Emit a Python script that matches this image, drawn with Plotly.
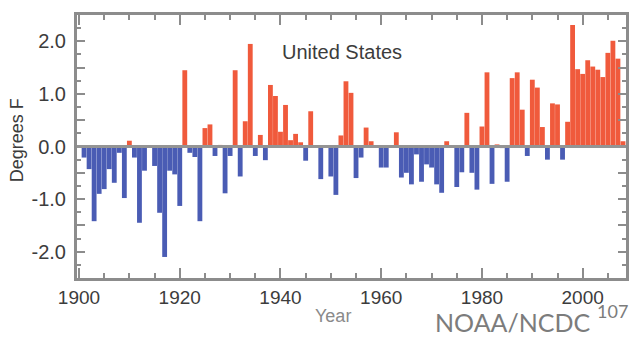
import plotly.graph_objects as go

years = list(range(1901, 2009))
anomaly_f = [
    -0.21, -0.43, -1.42, -0.90, -0.81, -0.43, -0.69, -0.12, -0.98, 0.11,   # 1901-1910
    -0.21, -1.45, -0.46, -0.02, -0.37, -1.26, -2.10, -0.46, -0.53, -1.13,  # 1911-1920
    1.45, -0.12, -0.20, -1.42, 0.35, 0.42, -0.18, 0.03, -0.89, -0.18,      # 1921-1930
    1.45, -0.57, 0.48, 1.95, -0.18, 0.22, -0.26, 1.17, 0.96, 0.28,         # 1931-1940
    0.79, 0.12, 0.24, 0.08, -0.27, 0.67, 0.02, -0.62, 0.02, -0.57,         # 1941-1950
    -0.92, 0.21, 1.24, 1.02, -0.60, -0.21, 0.36, 0.10, 0.02, -0.40,        # 1951-1960
    -0.40, -0.02, 0.27, -0.59, -0.50, -0.72, -0.15, -0.67, -0.34, -0.40,   # 1961-1970
    -0.72, -0.88, 0.10, 0.01, -0.77, -0.49, 0.64, -0.50, -0.82, 0.38,      # 1971-1980
    1.41, -0.71, 0.04, -0.03, -0.67, 1.30, 1.41, 0.70, -0.18, 1.27,        # 1981-1990
    1.12, 0.37, -0.25, 0.82, 0.80, -0.25, 0.47, 2.31, 1.47, 1.38,          # 1991-2000
    1.64, 1.52, 1.46, 1.32, 1.78, 2.01, 1.67, 0.10,                        # 2001-2008
]

x_tick_vals = [1900, 1920, 1940, 1960, 1980, 2000]
x_tick_text = ["1900", "1920", "1940", "1960", "1980", "2000"]
y_tick_vals = [-2.5, -2.0, -1.5, -1.0, -0.5, 0.0, 0.5, 1.0, 1.5, 2.0, 2.5]
y_tick_text = ["", "-2.0", "", "-1.0", "", "0.0", "", "1.0", "", "2.0", ""]

RED = "#f05a3c"
BLUE = "#4a5cb4"
AXIS = "#8c8c8c"
TEXT = "#3c3c3c"

# plot area in pixels: x 77..629, y 15..278
L, R, T, B = 77, 629, 15, 278
PW, PH = R - L, B - T


def px(x):
    return (x - L) / PW


def py(y):
    return (B - y) / PH


colors = [RED if v >= 0 else BLUE for v in anomaly_f]

fig = go.Figure(
    go.Bar(x=years, y=anomaly_f, marker=dict(color=colors, line=dict(width=0)))
)

fig.update_layout(
    width=637, height=345,
    margin=dict(l=L, r=637 - R, t=T, b=345 - B),
    paper_bgcolor="white", plot_bgcolor="white",
    bargap=0.04, showlegend=False,
    font=dict(family="Liberation Sans, Arial, sans-serif", color=TEXT),
)

fig.update_xaxes(
    range=[1899.6, 2008.6],
    tickvals=x_tick_vals, ticktext=x_tick_text,
    ticks="inside", ticklen=10, tickwidth=2, tickcolor=AXIS,
    minor=dict(dtick=5, tick0=1900, ticks="inside", ticklen=5, tickwidth=2, tickcolor=AXIS),
    showline=True, linecolor=AXIS, linewidth=3, mirror="allticks",
    showgrid=False, zeroline=False,
    tickfont=dict(size=19, color=TEXT),
)

fig.update_yaxes(
    range=[-2.5, 2.5],
    tickvals=y_tick_vals, ticktext=y_tick_text,
    ticks="inside", ticklen=8, tickwidth=2, tickcolor=AXIS,
    minor=dict(dtick=0.25, tick0=0, ticks="inside", ticklen=4, tickwidth=2, tickcolor=AXIS),
    showline=True, linecolor=AXIS, linewidth=3, mirror="allticks",
    showgrid=False, zeroline=False,
    tickfont=dict(size=20, color=TEXT),
    ticklabelstandoff=4,
)

fig.add_shape(type="line", xref="paper", yref="y", x0=0, x1=1, y0=0, y1=0,
              line=dict(color="#949494", width=3), layer="above")

fig.add_annotation(text="United States", xref="paper", yref="paper",
                   x=px(343), y=py(52), showarrow=False,
                   font=dict(size=20, color=TEXT), xanchor="center", yanchor="middle")
fig.add_annotation(text="Degrees F", xref="paper", yref="paper",
                   x=px(17), y=py(140), textangle=-90,
                   showarrow=False, font=dict(size=18, color=TEXT),
                   xanchor="center", yanchor="middle")
fig.add_annotation(text="Year", xref="paper", yref="paper",
                   x=px(334), y=py(316), showarrow=False,
                   font=dict(size=18, color="#8a8a8a"), xanchor="center", yanchor="middle")
fig.add_annotation(text="NOAA/NCDC", xref="paper", yref="paper",
                   x=px(595), y=py(322), showarrow=False, borderpad=0,
                   font=dict(size=25, color="#7c7c7c", family="Lato, Open Sans, sans-serif"),
                   xanchor="right", yanchor="middle")
fig.add_annotation(text="107", xref="paper", yref="paper",
                   x=px(599), y=py(311), showarrow=False, borderpad=0,
                   font=dict(size=18, color="#7c7c7c", family="Lato, Open Sans, sans-serif"),
                   xanchor="left", yanchor="middle")

fig.write_html("out.html")
